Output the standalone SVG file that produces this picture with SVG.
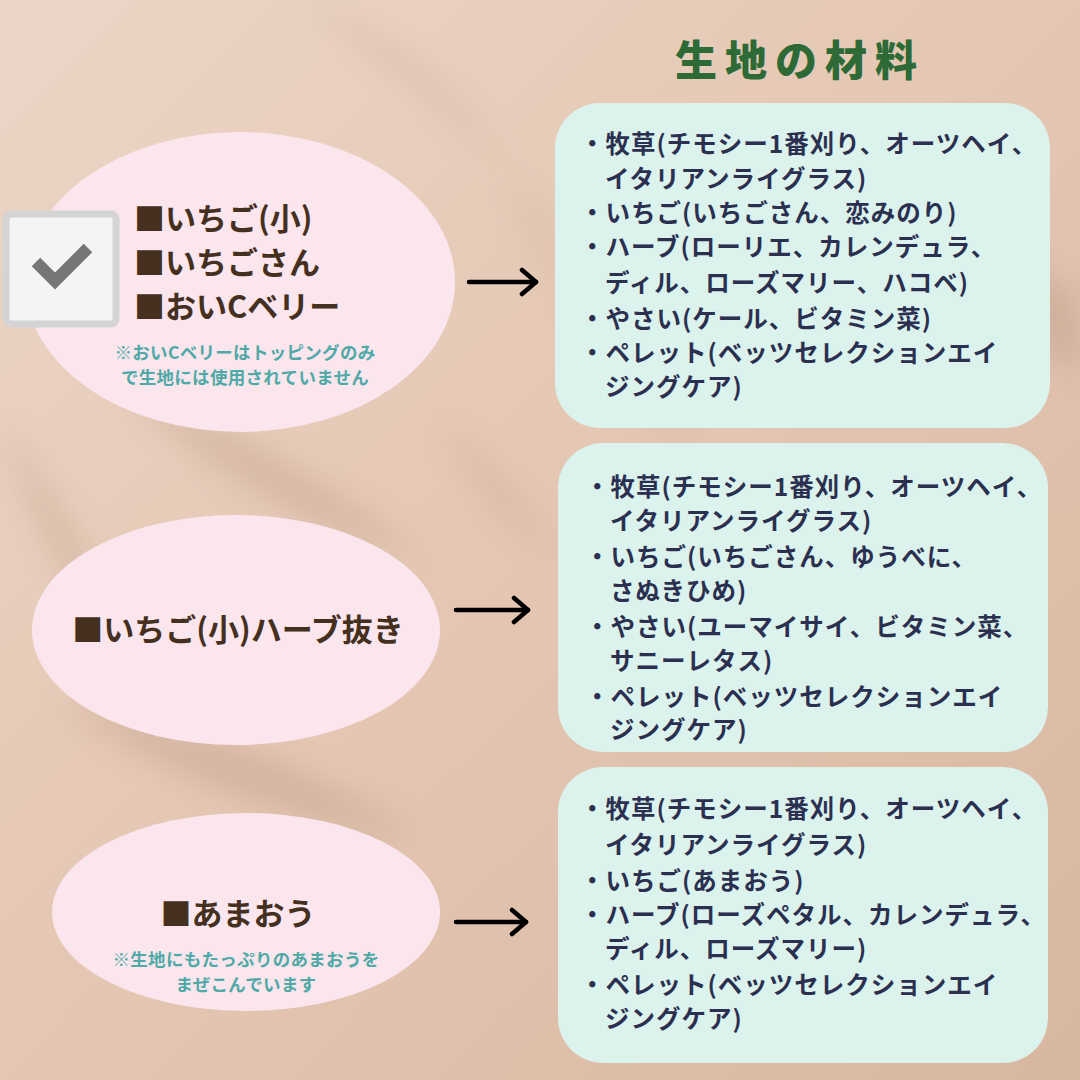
<svg xmlns="http://www.w3.org/2000/svg" width="1080" height="1080" viewBox="0 0 1080 1080">
<defs>
<linearGradient id="bg" x1="0" y1="0" x2="1" y2="1">
<stop offset="0" stop-color="#ecd6c7"/>
<stop offset="0.5" stop-color="#e4c6b2"/>
<stop offset="1" stop-color="#d8b7a1"/>
</linearGradient>
<filter id="blur" x="-50%" y="-50%" width="200%" height="200%"><feGaussianBlur stdDeviation="16"/></filter>
<marker id="chev" viewBox="0 0 20 30" refX="17" refY="15" markerWidth="20" markerHeight="30" markerUnits="userSpaceOnUse" orient="auto">
<path d="M3 3 L17 15 L3 27" fill="none" stroke="#000" stroke-width="4.5" stroke-linecap="round" stroke-linejoin="round"/>
</marker>
<style>
.oval{fill:#fbe6ee}
.box{fill:#dcf2ec}
.lbl{font-family:"Noto Sans CJK JP","Noto Sans",sans-serif;font-weight:700;fill:#45301f;font-size:31px}
.note{font-family:"Noto Sans CJK JP","Noto Sans",sans-serif;font-weight:700;fill:#4fa9a6;font-size:17.5px;text-anchor:middle;letter-spacing:0.3px}
.item{font-family:"Noto Sans CJK JP","Noto Sans",sans-serif;font-weight:700;fill:#2b3050;font-size:24.5px;letter-spacing:1px}
.title{font-family:"Noto Sans CJK JP",sans-serif;font-weight:900;fill:#2d6a36;font-size:42px;letter-spacing:8px}
.arr{stroke:#000;stroke-width:4.5;stroke-linecap:round;fill:none;marker-end:url(#chev)}
</style>
</defs>
<rect width="1080" height="1080" fill="url(#bg)"/>
<g filter="url(#blur)" fill="#9c7a64" opacity="0.25">
<path d="M300 0 C420 80 520 160 560 260 C600 360 640 420 700 440 C620 380 560 300 520 200 C480 110 400 40 300 0Z"/>
<path d="M120 380 C220 430 320 470 420 560 C300 520 200 470 120 380Z"/>
<path d="M60 700 C180 720 300 760 420 840 C300 820 160 780 60 700Z"/>
<path d="M900 120 C960 220 1000 320 1080 380 L1080 300 C1020 260 960 200 900 120Z"/>
<path d="M0 420 C60 500 100 580 140 680 C80 600 30 520 0 420Z"/>
<path d="M440 420 C480 460 520 500 560 560 C510 520 470 480 440 420Z"/>
</g>
<text class="title" x="675" y="76">生地の材料</text>
<g id="connectors">
<line class="arr" x1="469" y1="282" x2="536" y2="282"/>
<line class="arr" x1="456" y1="610" x2="528" y2="610"/>
<line class="arr" x1="456" y1="922" x2="526" y2="922"/>
</g>
<g id="node-strawberry">
<ellipse class="oval" cx="240" cy="282" rx="215" ry="150"/>
<rect x="6" y="214" width="110" height="110" rx="5" fill="#f4f4f4" stroke="#d4d4d4" stroke-width="7"/>
<path d="M36 262 L55 281 L88 248" fill="none" stroke="#767676" stroke-width="12" stroke-linejoin="miter"/>
<text class="lbl" x="134" y="230">■いちご(小)</text>
<text class="lbl" x="134" y="274">■いちごさん</text>
<text class="lbl" x="134" y="318">■おいCベリー</text>
<text class="note" x="245" y="359">※おいCベリーはトッピングのみ</text>
<text class="note" x="245" y="384">で生地には使用されていません</text>
</g>
<g id="node-noherb">
<ellipse class="oval" cx="236" cy="630" rx="204" ry="115"/>
<text class="lbl" x="238" y="641" text-anchor="middle">■いちご(小)ハーブ抜き</text>
</g>
<g id="node-amaou">
<ellipse class="oval" cx="246" cy="912" rx="194" ry="99"/>
<text class="lbl" x="238" y="925" text-anchor="middle">■あまおう</text>
<text class="note" x="246" y="966">※生地にもたっぷりのあまおうを</text>
<text class="note" x="246" y="991">まぜこんでいます</text>
</g>
<g id="box-1">
<rect class="box" x="555" y="103" width="495" height="325" rx="45"/>
<text class="item" x="580" y="153">・牧草(チモシー1番刈り、オーツヘイ、</text>
<text class="item" x="605" y="188">イタリアンライグラス)</text>
<text class="item" x="580" y="222">・いちご(いちごさん、恋みのり)</text>
<text class="item" x="580" y="256">・ハーブ(ローリエ、カレンデュラ、</text>
<text class="item" x="605" y="292">ディル、ローズマリー、ハコベ)</text>
<text class="item" x="580" y="328">・やさい(ケール、ビタミン菜)</text>
<text class="item" x="580" y="362">・ペレット(ベッツセレクションエイ</text>
<text class="item" x="605" y="396">ジングケア)</text>
</g>
<g id="box-2">
<rect class="box" x="558" y="443" width="490" height="309" rx="45"/>
<text class="item" x="585" y="496">・牧草(チモシー1番刈り、オーツヘイ、</text>
<text class="item" x="610" y="530">イタリアンライグラス)</text>
<text class="item" x="585" y="566">・いちご(いちごさん、ゆうべに、</text>
<text class="item" x="610" y="600">さぬきひめ)</text>
<text class="item" x="585" y="636">・やさい(ユーマイサイ、ビタミン菜、</text>
<text class="item" x="610" y="670">サニーレタス)</text>
<text class="item" x="585" y="706">・ペレット(ベッツセレクションエイ</text>
<text class="item" x="610" y="739">ジングケア)</text>
</g>
<g id="box-3">
<rect class="box" x="558" y="767" width="490" height="296" rx="45"/>
<text class="item" x="580" y="818">・牧草(チモシー1番刈り、オーツヘイ、</text>
<text class="item" x="605" y="854">イタリアンライグラス)</text>
<text class="item" x="580" y="890">・いちご(あまおう)</text>
<text class="item" x="580" y="924">・ハーブ(ローズペタル、カレンデュラ、</text>
<text class="item" x="605" y="958">ディル、ローズマリー)</text>
<text class="item" x="580" y="994">・ペレット(ベッツセレクションエイ</text>
<text class="item" x="605" y="1028">ジングケア)</text>
</g>
</svg>
